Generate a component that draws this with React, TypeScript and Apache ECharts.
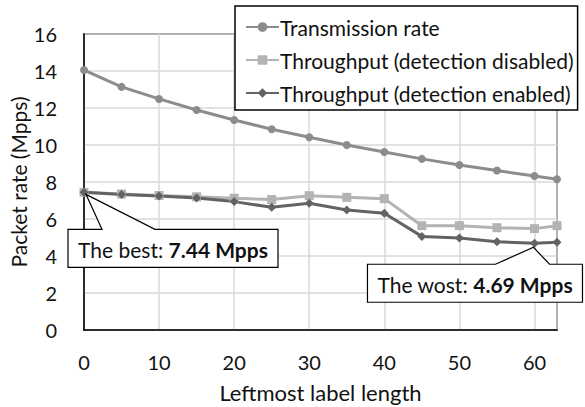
import React, { useEffect, useRef } from "react";
import * as echarts from "echarts";

const xValues = [0, 5, 10, 15, 20, 25, 30, 35, 40, 45, 50, 55, 60, 63];
const transmission = [14.05, 13.14, 12.49, 11.89, 11.35, 10.85, 10.42, 10.0, 9.62, 9.25, 8.92, 8.62, 8.32, 8.15];
const throughputDisabled = [7.44, 7.35, 7.27, 7.2, 7.12, 7.05, 7.26, 7.17, 7.1, 5.64, 5.64, 5.53, 5.48, 5.64];
const throughputEnabled = [7.44, 7.33, 7.24, 7.14, 6.94, 6.63, 6.85, 6.49, 6.31, 5.06, 4.97, 4.77, 4.69, 4.74];
const seriesNames = ["Transmission rate", "Throughput (detection disabled)", "Throughput (detection enabled)"];
const FONT = "Lato, 'Open Sans', sans-serif";

export default function App() {
  const ref = useRef<HTMLDivElement>(null);
  useEffect(() => {
    if (!ref.current) return;
    const chart = echarts.init(ref.current, undefined, { renderer: "svg" });
    const pair = (ys: number[]) => xValues.map((x, i) => [x, ys[i]]);
    chart.setOption({
      animation: false,
      textStyle: { fontFamily: FONT },
      grid: {
        left: 84, right: 28, top: 34, bottom: 77,
        containLabel: false, outerBoundsMode: "none",
        show: true, borderColor: "#000", borderWidth: 1.5, backgroundColor: "transparent",
      },
      legend: {
        orient: "vertical", left: 235, top: 6,
        backgroundColor: "#fff", borderColor: "#000", borderWidth: 1.5,
        padding: [9, 4, 5, 10], itemGap: 9, itemWidth: 33, itemHeight: 12,
        textStyle: { fontSize: 21, color: "#111", fontFamily: FONT, lineHeight: 24, padding: [0, 0, 0, -4] },
        data: seriesNames,
        z: 10,
      },
      xAxis: {
        type: "value", min: 0, max: 63, interval: 10,
        name: "Leftmost label length", nameLocation: "middle", nameGap: 51, nameMoveOverlap: false,
        nameTextStyle: { fontSize: 22, color: "#111", fontFamily: FONT },
        axisLine: { lineStyle: { color: "#000", width: 1.5 } },
        axisTick: { show: false },
        axisLabel: { fontSize: 20, color: "#111", margin: 22, showMaxLabel: false, fontFamily: FONT },
        splitLine: { show: true, lineStyle: { color: "#d9d9d9", width: 1.5 } },
      },
      yAxis: {
        type: "value", min: 0, max: 16, interval: 2,
        name: "Packet rate (Mpps)", nameLocation: "middle", nameGap: 55, nameMoveOverlap: false,
        nameTextStyle: { fontSize: 21, color: "#111", fontFamily: FONT },
        axisLine: { show: true, lineStyle: { color: "#000", width: 1.5 } },
        axisTick: { show: false },
        axisLabel: { fontSize: 20, color: "#111", margin: 27, fontFamily: FONT },
        splitLine: { show: true, lineStyle: { color: "#d9d9d9", width: 1.5 } },
      },
      series: [
        {
          name: seriesNames[0], type: "line", data: pair(transmission),
          symbol: "circle", symbolSize: 8,
          lineStyle: { color: "#8c8c8c", width: 3 }, itemStyle: { color: "#8c8c8c" },
        },
        {
          name: seriesNames[1], type: "line", data: pair(throughputDisabled),
          symbol: "rect", symbolSize: 9,
          lineStyle: { color: "#b3b3b3", width: 3 }, itemStyle: { color: "#b3b3b3" },
        },
        {
          name: seriesNames[2], type: "line", data: pair(throughputEnabled),
          symbol: "diamond", symbolSize: 9,
          lineStyle: { color: "#636363", width: 3 }, itemStyle: { color: "#636363" },
        },
      ],
    });

    const best = Math.max(...throughputEnabled);
    const worst = Math.min(...throughputEnabled);
    const bi = throughputEnabled.indexOf(best);
    const wi = throughputEnabled.indexOf(worst);
    const p = chart.convertToPixel({ gridIndex: 0 }, [xValues[bi], best]) as number[];
    const q = chart.convertToPixel({ gridIndex: 0 }, [xValues[wi], worst]) as number[];

    const callout = (box: number[], base: number[], apex: number[], text: string, value: string) => {
      const [x0, y0, x1, y1] = box;
      return [
        {
          type: "polygon", z: 20,
          shape: {
            points: [[x0, y0], [base[0], y0], apex, [base[1], y0], [x1, y0], [x1, y1], [x0, y1]],
          },
          style: { fill: "#fff", stroke: "#000", lineWidth: 1.2 },
        },
        {
          type: "text", z: 21,
          x: (x0 + x1) / 2, y: (y0 + y1) / 2 + 1,
          style: {
            text: `${text} {b|${value}}`,
            fontSize: 21, fontFamily: FONT, fill: "#111",
            align: "center", verticalAlign: "middle",
            rich: { b: { fontWeight: "bold", fontSize: 21, fontFamily: FONT, fill: "#111" } },
          },
        },
      ];
    };

    chart.setOption({
      graphic: [
        ...callout(
          [p[0] - 16, p[1] + 37, p[0] + 194, p[1] + 75],
          [p[0] + 18, p[0] + 71], [p[0] + 2, p[1] + 2],
          "The best:", `${best.toFixed(2)} Mpps`
        ),
        ...callout(
          [q[0] - 167, q[1] + 21, q[0] + 48, q[1] + 59],
          [q[0] - 39, q[0] + 15], [q[0] - 1, q[1] + 4],
          "The wost:", `${worst.toFixed(2)} Mpps`
        ),
      ],
    });

    return () => chart.dispose();
  }, []);
  return <div ref={ref} style={{ position: "absolute", left: 0, top: 0, width: 585, height: 407 }} />;
}
